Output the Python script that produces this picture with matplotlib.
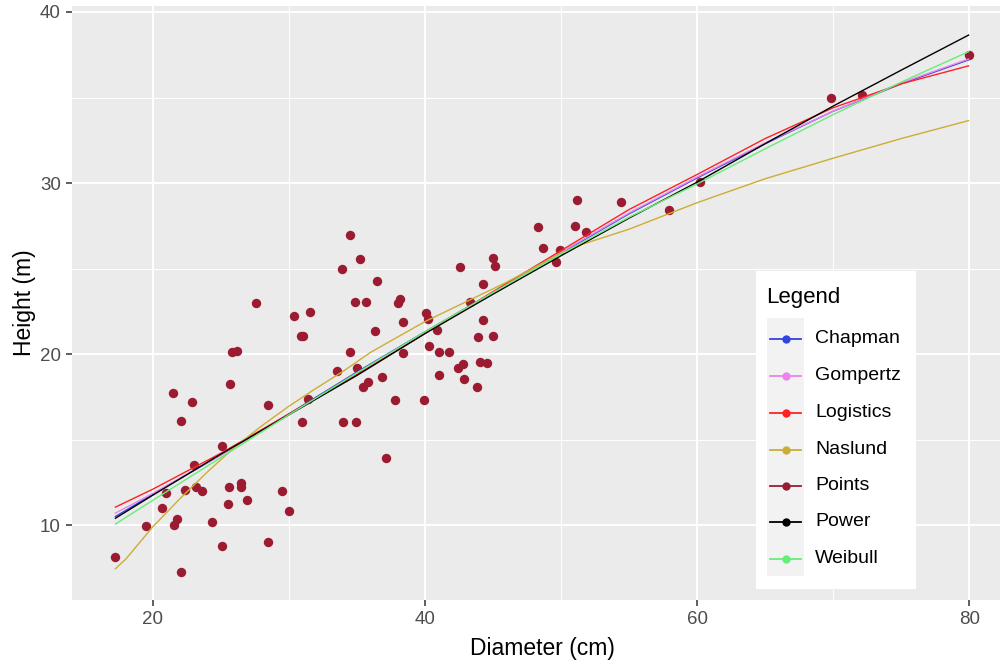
import matplotlib
matplotlib.use("Agg")
import matplotlib.pyplot as plt
from matplotlib.lines import Line2D
from matplotlib.patches import Rectangle

plt.rcParams['font.family'] = ['Liberation Sans', 'DejaVu Sans']

# ---- data ----
diameter = [27.6, 30.4, 25.8, 26.2, 25.7, 21.5, 22.9, 22.1, 28.5, 25.1, 23.0, 21.0,
            22.35, 23.2, 23.65, 25.6, 26.45, 26.5, 29.5, 20.7, 25.5, 26.9, 30.0, 21.8,
            21.55, 19.5, 24.35, 17.25, 25.05, 28.5, 22.1, 34.5, 35.2, 33.9, 36.5, 34.85,
            35.7, 38.05, 38.15, 31.55, 30.9, 31.05, 36.3, 38.4, 40.1, 40.25, 42.6, 45.0,
            45.15, 44.25, 44.3, 43.9, 45.0, 40.85, 34.5, 38.4, 40.3, 41.0, 41.8, 35.0,
            33.55, 36.85, 35.8, 35.45, 42.4, 42.8, 44.05, 44.55, 41.0, 42.85, 43.8, 31.4,
            37.8, 39.9, 30.95, 34.0, 34.95, 37.1, 51.15, 54.4, 48.3, 51.0, 51.85, 48.65,
            49.95, 49.6, 57.95, 60.2, 69.85, 72.15, 79.95, 43.3]
height = [23.0, 22.2, 20.1, 20.2, 18.25, 17.7, 17.2, 16.1, 17.0, 14.6, 13.5, 11.9,
          12.05, 12.2, 12.0, 12.2, 12.45, 12.2, 12.0, 11.0, 11.25, 11.45, 10.8, 10.35,
          10.0, 9.95, 10.2, 8.15, 8.75, 9.0, 7.25, 26.95, 25.55, 25.0, 24.25, 23.05,
          23.05, 23.0, 23.2, 22.45, 21.05, 21.05, 21.35, 21.9, 22.4, 22.05, 25.1, 25.6,
          25.15, 24.1, 22.0, 21.0, 21.05, 21.4, 20.1, 20.05, 20.5, 20.1, 20.1, 19.2,
          19.0, 18.65, 18.35, 18.1, 19.2, 19.4, 19.55, 19.45, 18.75, 18.55, 18.1, 17.4,
          17.3, 17.3, 16.0, 16.0, 16.0, 13.95, 29.0, 28.9, 27.45, 27.5, 27.15, 26.2,
          26.1, 25.4, 28.4, 30.05, 35.0, 35.15, 37.5, 23.05]

curve_x = [17.25, 20, 25, 30, 35, 40, 45, 50, 55, 60, 65, 70, 75, 79.95]
chapman = [10.5, 11.8, 14.1, 16.5, 18.95, 21.3, 23.6, 25.9, 28.2, 30.3, 32.3, 34.2, 35.8, 37.2]
gompertz = [10.7, 11.85, 14.1, 16.45, 18.8, 21.2, 23.6, 25.95, 28.25, 30.35, 32.35, 34.2, 35.85, 37.25]
logistics = [11.05, 12.1, 14.2, 16.5, 18.8, 21.2, 23.65, 26.05, 28.45, 30.5, 32.6, 34.4, 35.8, 36.85]
power = [10.4, 11.75, 14.15, 16.45, 18.75, 21.2, 23.5, 25.75, 27.95, 30.05, 32.3, 34.5, 36.6, 38.65]
weibull = [10.06, 11.45, 13.95, 16.45, 18.9, 21.3, 23.6, 25.85, 28.0, 29.95, 32.0, 34.0, 35.9, 37.68]

naslund_x = [17.25, 18, 20, 22, 24, 26, 28, 30, 32, 34, 36, 38, 40, 43, 46, 50, 51.5,
             55, 60, 65, 70, 75, 79.95]
naslund = [7.45, 8.0, 9.9, 11.55, 13.1, 14.55, 15.8, 16.95, 18.0, 19.0, 20.1, 21.0,
           21.9, 23.05, 24.2, 25.9, 26.4, 27.3, 28.85, 30.25, 31.45, 32.6, 33.65]

legend_labels = ["Chapman", "Gompertz", "Logistics", "Naslund", "Points", "Power", "Weibull"]
colors = {
    "Chapman": "#3344DD",
    "Gompertz": "#EE82EE",
    "Logistics": "#FF2222",
    "Naslund": "#CDAD33",
    "Points": "#9B1C31",
    "Power": "#000000",
    "Weibull": "#66EE77",
}

x_ticks = [20, 40, 60, 80]
y_ticks = [10, 20, 30, 40]

# ---- figure ----
W, H = 1000, 665
fig = plt.figure(figsize=(W / 100, H / 100), dpi=100)


def fx(px):
    return px / W


def fy(py):
    return 1 - py / H


left, right, top, bottom = 72, 1012, 6, 600
ax = fig.add_axes([fx(left), fy(bottom), fx(right) - fx(left), fy(top) - fy(bottom)])
ax.set_facecolor("#EBEBEB")
for s in ax.spines.values():
    s.set_visible(False)

ax.set_xlim(14.06, 83.14)
ax.set_ylim(5.62, 40.35)
ax.set_xticks(x_ticks)
ax.set_yticks(y_ticks)
ax.set_xticks([30, 50, 70], minor=True)
ax.set_yticks([15, 25, 35], minor=True)
ax.grid(which="major", color="white", linewidth=1.4)
ax.grid(which="minor", color="white", linewidth=0.7)
ax.set_axisbelow(True)
ax.tick_params(which="major", length=4, width=1.1, color="#333333",
               labelcolor="#4D4D4D", labelsize=13.5, pad=4)
ax.tick_params(which="minor", length=0)

ax.scatter(diameter, height, s=46, color=colors["Points"], zorder=2, linewidths=0)

ax.plot(curve_x, chapman, color=colors["Chapman"], lw=1.0, zorder=3)
ax.plot(curve_x, gompertz, color=colors["Gompertz"], lw=1.0, zorder=3)
ax.plot(curve_x, logistics, color=colors["Logistics"], lw=1.0, zorder=3)
ax.plot(naslund_x, naslund, color=colors["Naslund"], lw=1.0, zorder=3)
ax.plot(curve_x, power, color=colors["Power"], lw=1.0, zorder=3)
ax.plot(curve_x, weibull, color=colors["Weibull"], lw=1.0, zorder=3)

fig.text(fx(542), fy(648), "Diameter (cm)", ha="center", va="center", fontsize=16.5)
fig.text(fx(24), fy(303), "Height (m)", ha="center", va="center", rotation=90, fontsize=16.5)

# ---- legend (drawn manually to get ggplot-style key backgrounds) ----
fig.patches.append(Rectangle((fx(756), fy(589)), fx(916) - fx(756), fy(271) - fy(589),
                             transform=fig.transFigure, facecolor="white",
                             edgecolor="none", zorder=10))
fig.patches.append(Rectangle((fx(767), fy(576)), fx(804) - fx(767), fy(318) - fy(576),
                             transform=fig.transFigure, facecolor="#F2F2F2",
                             edgecolor="none", zorder=11))
fig.text(fx(766), fy(298), "Legend", ha="left", va="center", fontsize=16, zorder=12)
entry_y = [338.5, 376, 412.5, 449.5, 486, 522, 558.5]
for lab, py in zip(legend_labels, entry_y):
    c = colors[lab]
    fig.add_artist(Line2D([fx(770), fx(801)], [fy(py), fy(py)], transform=fig.transFigure,
                          color=c, lw=1.3, zorder=12))
    fig.add_artist(Line2D([fx(785.5)], [fy(py)], transform=fig.transFigure, marker="o",
                          markersize=6, color=c, markeredgewidth=0, zorder=13))
    fig.text(fx(815), fy(py), lab, ha="left", va="center", fontsize=14, zorder=12)

fig.savefig("out.png", dpi=100)
